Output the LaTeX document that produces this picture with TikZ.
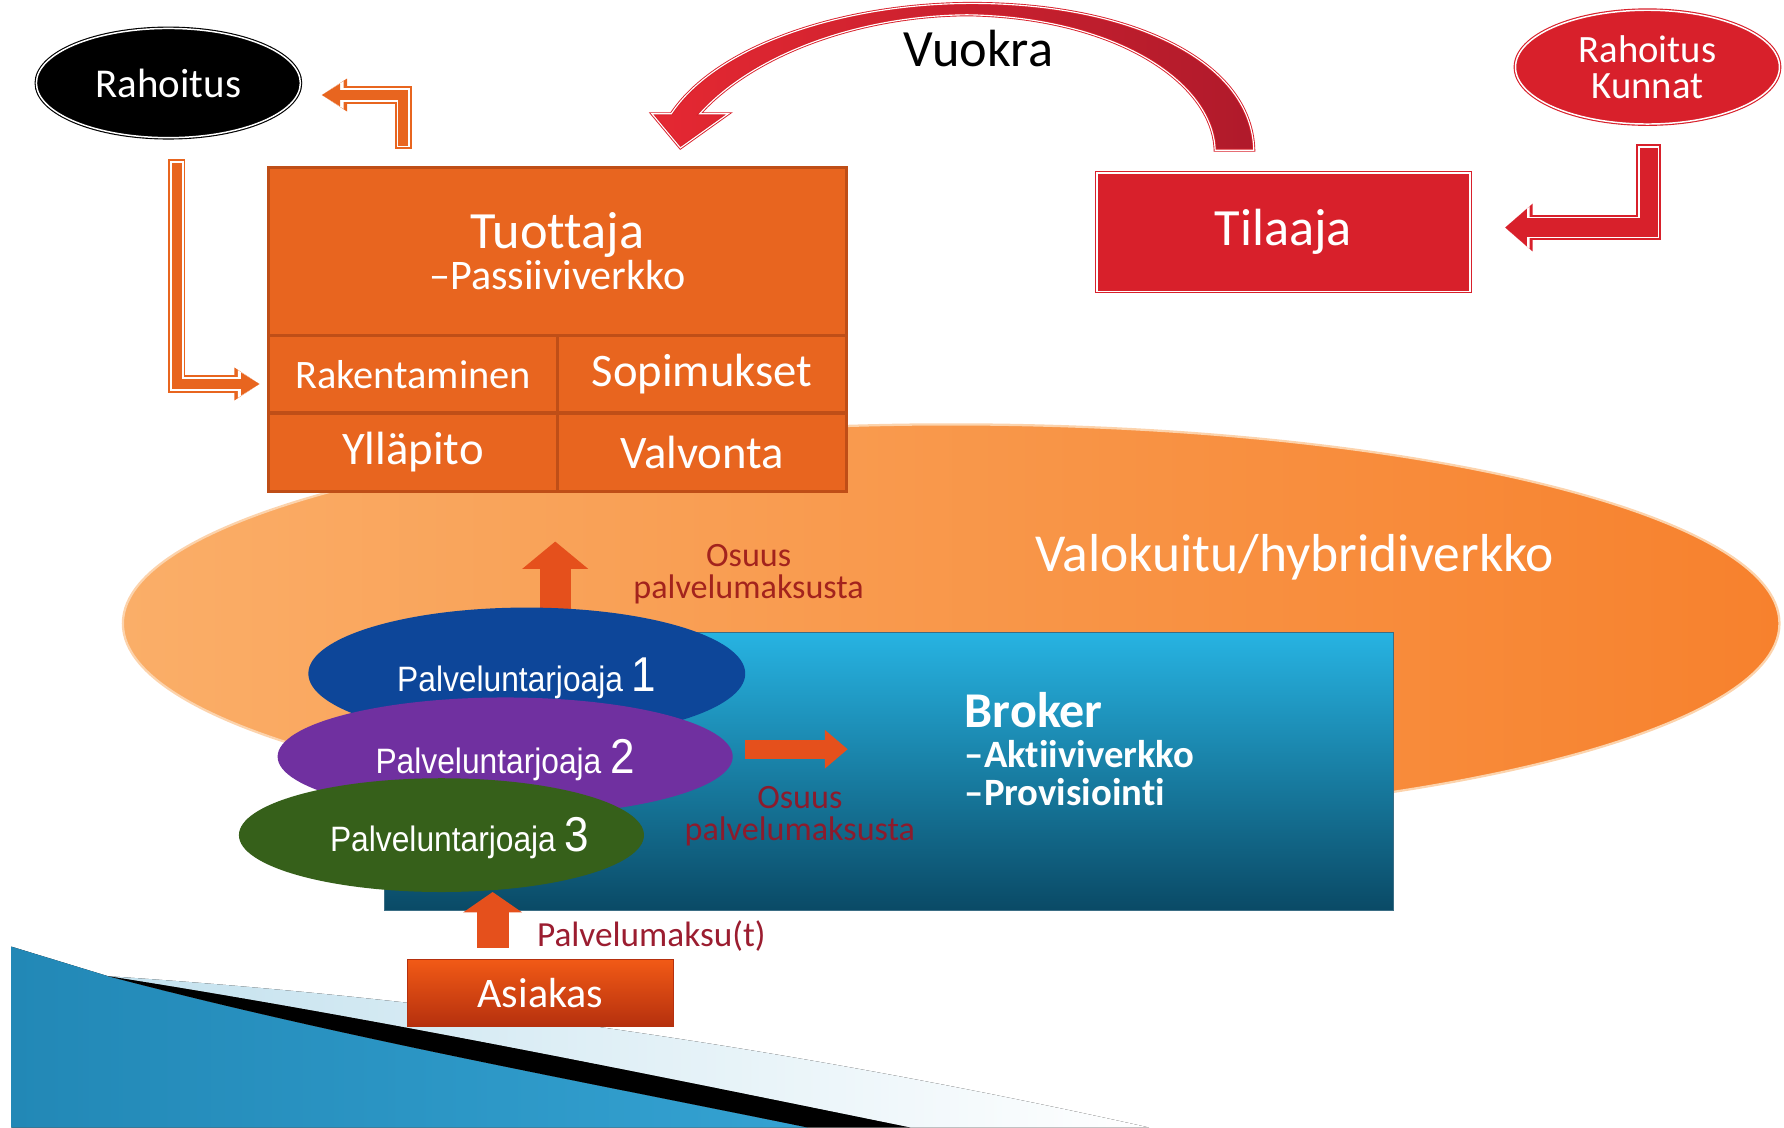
\documentclass[tikz,border=0pt]{standalone}
\usepackage{fontspec}
\setmainfont{Carlito}[Ligatures=NoCommon]
\newfontfamily\pfont[FakeStretch=0.9]{Liberation Sans}
\usetikzlibrary{calc}
\usetikzlibrary{arrows.meta}
\usetikzlibrary{shapes.geometric}

\definecolor{tuoF}{HTML}{E8651F}
\definecolor{tuoD}{HTML}{BF4E17}
\definecolor{vred}{HTML}{D8202B}
\definecolor{vredL}{HTML}{E52832}
\definecolor{vredD}{HTML}{B01A2B}
\definecolor{upC}{HTML}{E5501C}
\definecolor{pblue}{HTML}{0D4699}
\definecolor{ppurple}{HTML}{7030A0}
\definecolor{pgreen}{HTML}{36601A}
\definecolor{osA}{HTML}{A3231D}
\definecolor{osB}{HTML}{8C1B2C}
\definecolor{pmk}{HTML}{9B1D30}
\definecolor{broT}{HTML}{27B3E2}
\definecolor{broB}{HTML}{0A4A66}
\definecolor{ellL}{HTML}{FAAE68}
\definecolor{ellR}{HTML}{F7812D}
\definecolor{ellE}{HTML}{FCD3AC}
\definecolor{asiT}{HTML}{F25A16}
\definecolor{asiB}{HTML}{B5300E}
\definecolor{decoA}{HTML}{2288B6}
\definecolor{decoB}{HTML}{62C6EA}
\definecolor{decoC}{HTML}{34A2D2}
\definecolor{bandL}{HTML}{C3E1EE}

\begin{document}
\begin{tikzpicture}[x=1pt,y=-1pt,
  every node/.style={inner sep=0pt, outer sep=0pt, text=white},
  ringed/.style={line width=1pt, double distance=1.3pt},
  cell/.style={rectangle, draw=tuoD, line width=3pt, fill=tuoF, minimum width=254pt, minimum height=68pt, font=\fontsize{41}{44}\selectfont},
  pell/.style={ellipse, font=\pfont\fontsize{31}{34}\selectfont},
  obarA/.style={draw=tuoF, line width=15pt, line cap=rect, -{Triangle[width=29pt,length=22pt,line width=0pt]}},
  obarB/.style={draw=white, line width=12pt, line cap=rect, -{Triangle[width=24.5pt,length=19pt,line width=0pt]}},
  obarC/.style={draw=tuoF, line width=9pt, line cap=rect, -{Triangle[width=20pt,length=16pt,line width=0pt]}},
  rbarA/.style={draw=vred, line width=22pt, line cap=rect, -{Triangle[width=42pt,length=24pt,line width=0pt]}},
  rbarB/.style={draw=white, line width=19pt, line cap=rect, -{Triangle[width=37.5pt,length=21.5pt,line width=0pt]}},
  rbarC/.style={draw=vred, line width=16pt, line cap=rect, -{Triangle[width=33pt,length=19pt,line width=0pt]}}
]
\useasboundingbox (0,0) rectangle (1568,991);

% corner decoration
\fill[left color=decoA, middle color=decoB, right color=decoC] (10,832) -- (95,858) .. controls (300,912) and (520,952) .. (710,991) -- (10,991) -- cycle;
\fill[left color=bandL, right color=white] (95,858) .. controls (400,878) and (700,922) .. (1010,991) -- (800,991) .. controls (560,942) and (330,895) .. (95,858) -- cycle;
\fill[black] (95,858) .. controls (330,895) and (560,942) .. (800,991) -- (710,991) .. controls (520,952) and (300,912) .. (95,858) -- cycle;

% network ellipse
\draw[left color=ellL, right color=ellR, draw=ellE, line width=2pt] (836,548) ellipse [x radius=728, y radius=175];
\node[font=\fontsize{47}{50}\selectfont] (valo) at (1138,490) {Valokuitu/hybridiverkko};

% broker
\node[rectangle, minimum width=887pt, minimum height=244pt, top color=broT, bottom color=broB, draw=broB!80, line width=1pt] (bro) at (781.5,678) {};
\node[anchor=base west, font=\fontsize{44}{48}\selectfont\bfseries] (brk) at (848,639) {Broker};
\node[anchor=base west, font=\fontsize{34}{38}\selectfont\bfseries] (akt) at (848,675) {–Aktiiviverkko};
\node[anchor=base west, font=\fontsize{34}{38}\selectfont\bfseries] (pro) at (848,708) {–Provisiointi};
\node[text=osB, align=center, font=\fontsize{30}{28}\selectfont] (os2) at (703,717) {Osuus\\palvelumaksusta};

% tuottaja
\node[rectangle, minimum width=508pt, minimum height=285pt, fill=tuoF, draw=tuoD, line width=3pt] (tuo) at (490,289.5) {};
\node[rectangle, minimum width=508pt, minimum height=148pt, draw=tuoD, line width=3pt, fill=tuoF, align=center, font=\fontsize{46}{36}\selectfont] (tuot) at (490,221) {Tuottaja\\{\fontsize{37}{36}\selectfont –Passiiviverkko}};
\node[cell, font=\fontsize{35.5}{40}\selectfont] (rak) at (363,329) {Rakentaminen};
\node[cell] (sop) at (617,329) {Sopimukset};
\node[cell, minimum height=69pt] (yll) at (363,397.5) {Ylläpito};
\node[cell, minimum height=69pt] (val) at (617,397.5) {Valvonta};

% share to tuottaja
\coordinate (up1) at ($(tuo.south)+(-2,44)$);
\node[text=osA, align=center, font=\fontsize{30}{28}\selectfont] (os1) at (658,505) {Osuus\\palvelumaksusta};
\draw[upC, line width=27pt, -{Triangle[width=58pt,length=24pt,line width=0pt]}] (up1 |- 0,545) -- (up1);

% service providers
\node[pell, fill=pblue, minimum width=384pt, minimum height=116pt] (p1) at (463,592) {};
\node[pell, fill=ppurple, minimum width=400pt, minimum height=104pt] (p2) at (444,665) {};
\node[pell, fill=pgreen, minimum width=356pt, minimum height=100pt] (p3) at (388,734) {};
\node[pell] at (463,596) {Palveluntarjoaja {\fontsize{43}{44}\selectfont 1}};
\node[pell] at (444,668) {Palveluntarjoaja {\fontsize{43}{44}\selectfont 2}};
\node[pell] at (404,737) {Palveluntarjoaja {\fontsize{43}{44}\selectfont 3}};

\coordinate (brin) at ($(bro.west)+(407,-19.5)$);
\draw[upC, line width=17pt, -{Triangle[width=34pt,length=20pt,line width=0pt]}] ($(p2.east)+(11,-6.5)$) -- (brin);

% asiakas
\node[rectangle, minimum width=234pt, minimum height=59pt, top color=asiT, bottom color=asiB, draw=asiB, line width=1pt, font=\fontsize{37}{40}\selectfont] (asi) at (475,872.5) {Asiakas};
\coordinate (as1) at ($(asi.north)+(-42,-10)$);
\draw[upC, line width=28pt, -{Triangle[width=52pt,length=18pt,line width=0pt]}] (as1) -- (as1 |- p3.south);
\node[anchor=west, text=pmk, font=\fontsize{31}{34}\selectfont] (pmk) at (472,823) {Palvelumaksu(t)};

% rahoitus
\node[ellipse, fill=black, draw=black, double=white, ringed, minimum width=232pt, minimum height=96pt, font=\fontsize{36}{40}\selectfont] (rah) at (148,73) {Rahoitus};
\node[ellipse, fill=vred, draw=vred, double=white, ringed, minimum width=232pt, minimum height=100pt, align=center, font=\fontsize{34}{32}\selectfont] (rk) at (1448,59) {Rahoitus\\Kunnat};
\node[rectangle, fill=vred, draw=vred, double=white, ringed, minimum width=328pt, minimum height=104pt, font=\fontsize{46}{50}\selectfont] (til) at (1128,204) {Tilaaja};

% bent arrows
\coordinate (t1) at ($(tuo.north west)+(118.5,-23.5)$);
\coordinate (t2) at ($(rah.east)+(19,10.5)$);
\coordinate (r1) at ($(rah.south)+(7.5,26.5)$);
\coordinate (r2) at ($(rak.west)+(-8,8.5)$);
\coordinate (k1) at ($(rk.south)+(1,29)$);
\coordinate (k2) at ($(til.east)+(31,-4)$);
\foreach \s in {obarA,obarB,obarC} {
  \draw[\s] (t1) |- (t2);
  \draw[\s] (r1) |- (r2);
}
\foreach \s in {rbarA,rbarB,rbarC}
  \draw[\s] (k1) |- (k2);

% vuokra
\coordinate (vt) at ($(til.north)+(-43,-20)$);
\coordinate (vh) at ($(tuo.north)+(108,-17)$);
\draw[left color=vredL, right color=vredD, draw=vred, double=white, line width=0.8pt, double distance=1pt]
  ($(vh)+(-8,-30)$) .. controls (630,40) and (740,4) .. (850,3) .. controls (990,2) and ($(vt)+(15,-80)$) .. ($(vt)+(17,0)$)
  -- ($(vt)+(-17,0)$) .. controls ($(vt)+(-19,-60)$) and (980,15) .. (850,13) .. controls (750,14) and (660,50) .. ($(vh)+(17,-30)$)
  -- ($(vh)+(42,-30)$) -- (vh) -- ($(vh)+(-25,-30)$) -- cycle;
\node[text=black, font=\fontsize{46}{50}\selectfont] (vuo) at (860,43) {Vuokra};

\end{tikzpicture}
\end{document}
